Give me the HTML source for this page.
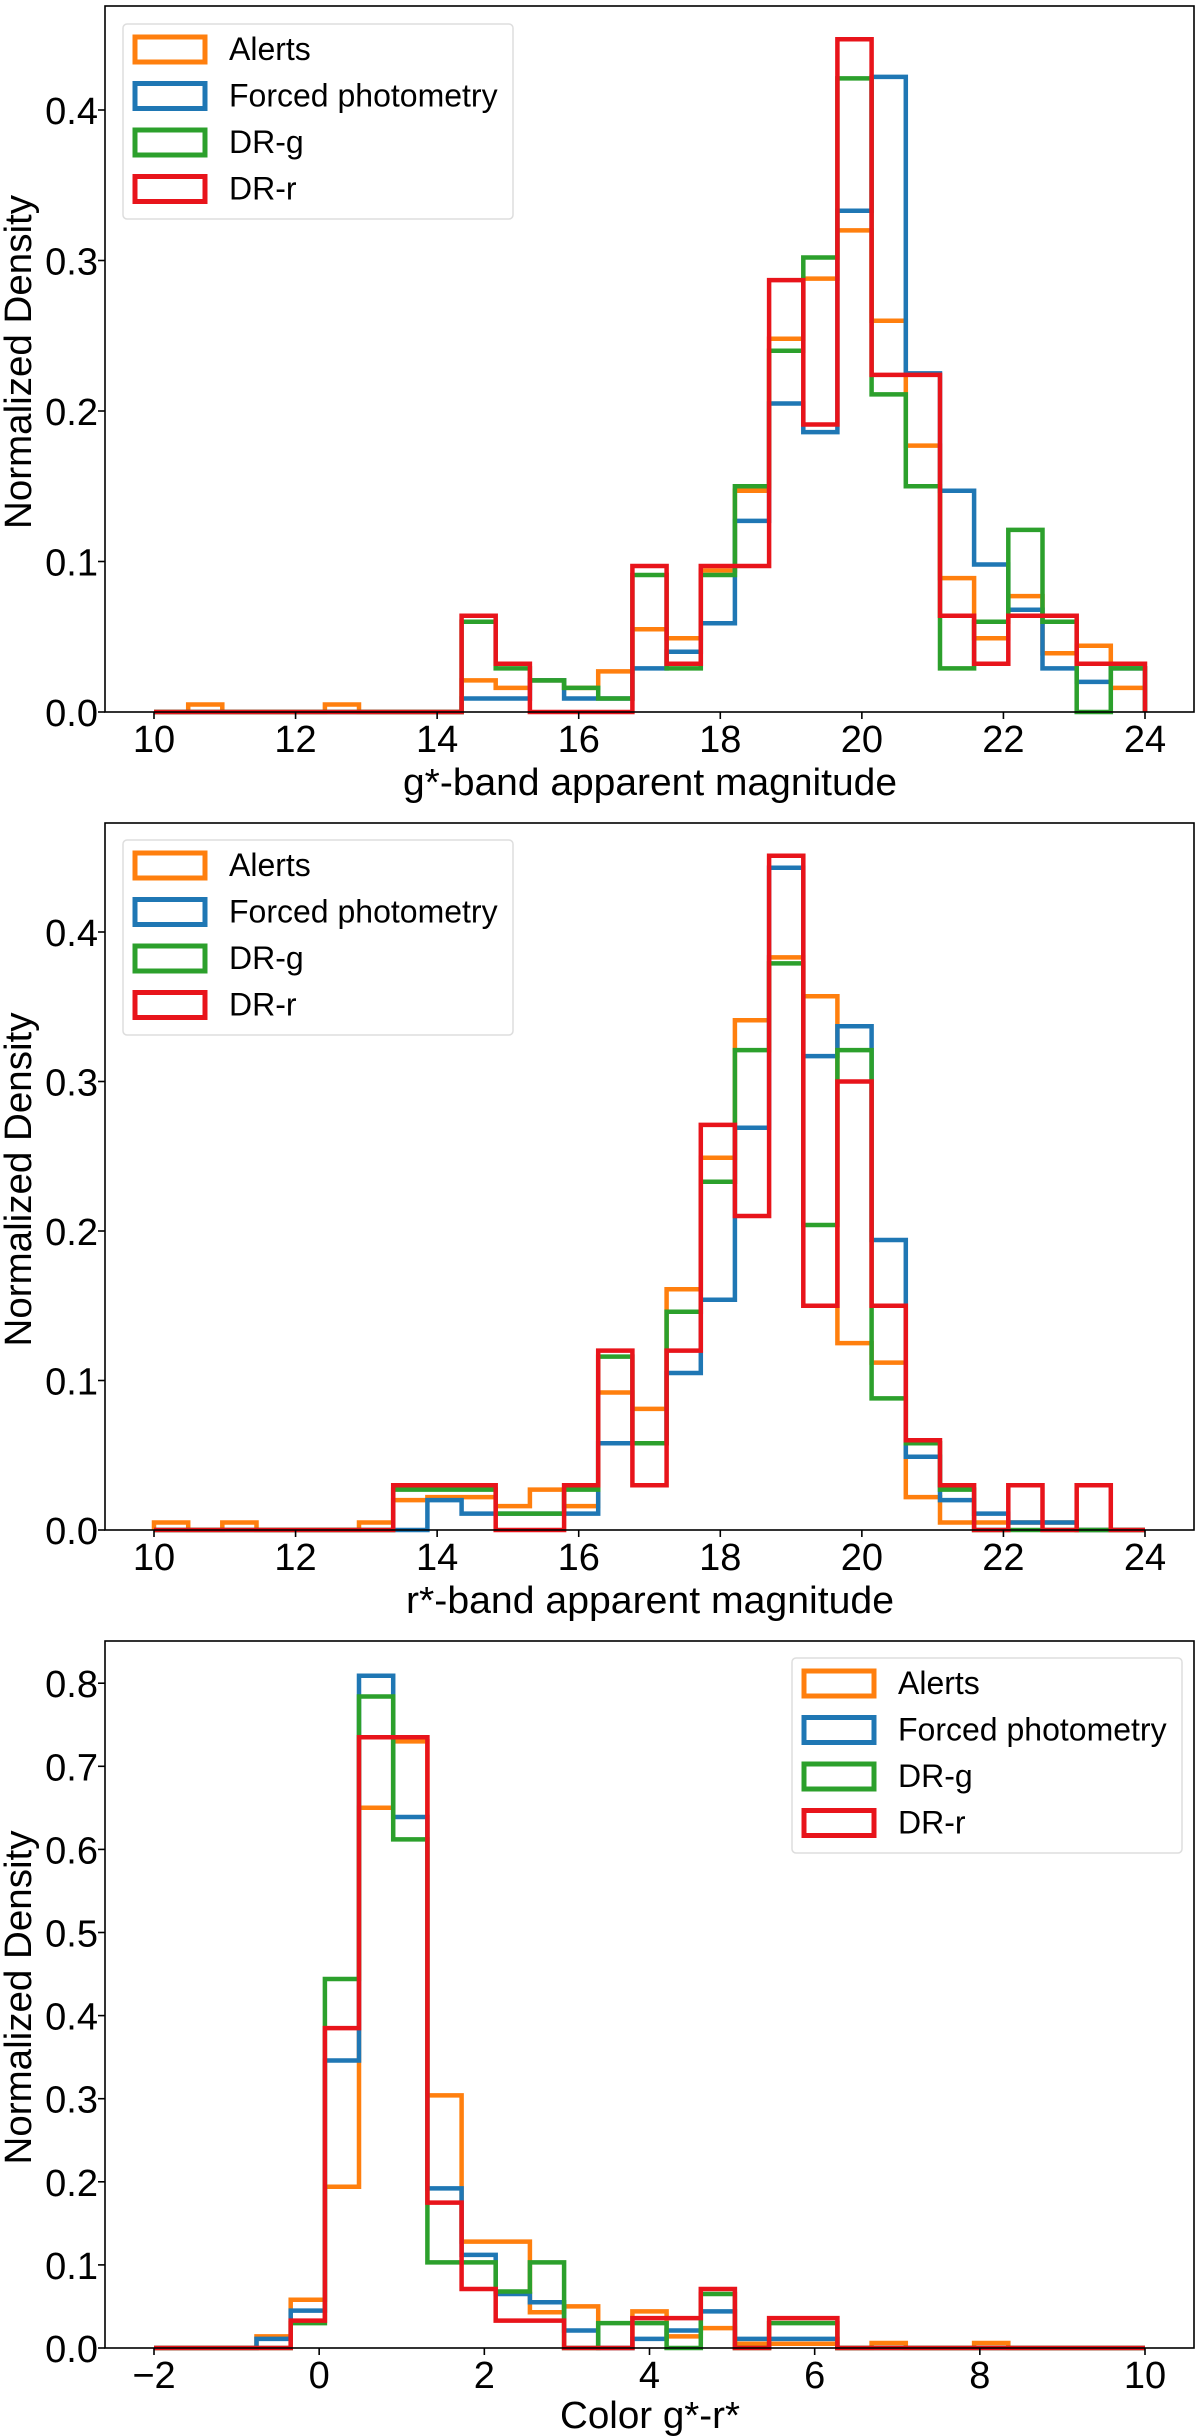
<!DOCTYPE html>
<html><head><meta charset="utf-8"><style>
html,body{margin:0;padding:0;background:#fff;}
svg{display:block;font-family:"Liberation Sans",Arial,sans-serif;}
</style></head><body>
<svg id="fig" width="1200" height="2436" viewBox="0 0 1200 2436" xmlns="http://www.w3.org/2000/svg"></svg>
<script>
const seriesNames = ["Alerts","Forced photometry","DR-g","DR-r"];
const seriesColors = ["#ff7f0e","#1f77b4","#2ca02c","#e8141b"];
// Panel 1: g*-band, range 10-24, 29 bins
const p1Range = [10, 24];
const p1Alerts = [0,0.005,0,0,0,0.005,0,0,0,0.021,0.016,0.021,0.016,0.027,0.055,0.049,0.094,0.147,0.248,0.288,0.32,0.26,0.177,0.089,0.049,0.077,0.039,0.044,0.016];
const p1Forced = [0,0,0,0,0,0,0,0,0,0.009,0.009,0.021,0.009,0.009,0.029,0.04,0.059,0.127,0.205,0.186,0.333,0.422,0.225,0.147,0.098,0.068,0.029,0.02,0.029];
const p1DRg = [0,0,0,0,0,0,0,0,0,0.06,0.029,0.021,0.016,0.009,0.091,0.029,0.091,0.15,0.24,0.302,0.421,0.211,0.15,0.029,0.06,0.121,0.06,0,0.029];
const p1DRr = [0,0,0,0,0,0,0,0,0,0.064,0.032,0,0,0,0.097,0.032,0.097,0.097,0.287,0.191,0.447,0.224,0.224,0.064,0.032,0.064,0.064,0.032,0.032];
const p1XTicks = [10,12,14,16,18,20,22,24];
const p1YTicks = [0,0.1,0.2,0.3,0.4];
// Panel 2: r*-band
const p2Range = [10, 24];
const p2Alerts = [0.005,0,0.005,0,0,0,0.005,0.02,0.022,0.022,0.016,0.027,0.016,0.092,0.081,0.161,0.249,0.341,0.383,0.357,0.125,0.112,0.022,0.005,0.005,0.005,0.005,0,0];
const p2Forced = [0,0,0,0,0,0,0,0,0.02,0.011,0.011,0.011,0.011,0.058,0.058,0.105,0.154,0.269,0.443,0.317,0.337,0.194,0.049,0.02,0.011,0.005,0.005,0,0];
const p2DRg = [0,0,0,0,0,0,0,0.027,0.027,0.027,0.011,0.011,0.027,0.116,0.058,0.146,0.233,0.321,0.379,0.204,0.321,0.088,0.058,0.027,0,0,0,0,0];
const p2DRr = [0,0,0,0,0,0,0,0.03,0.03,0.03,0,0,0.03,0.12,0.03,0.12,0.271,0.21,0.451,0.15,0.30,0.15,0.06,0.03,0,0.03,0,0.03,0];
const p2XTicks = [10,12,14,16,18,20,22,24];
const p2YTicks = [0,0.1,0.2,0.3,0.4];
// Panel 3: color g*-r*
const p3Range = [-2, 10];
const p3Alerts = [0,0,0,0.014,0.058,0.194,0.65,0.73,0.304,0.128,0.128,0.043,0.05,0,0.044,0.014,0.024,0.005,0.005,0.005,0,0.006,0,0,0.006,0,0,0,0];
const p3Forced = [0,0,0,0.011,0.045,0.346,0.809,0.639,0.192,0.112,0.065,0.055,0.021,0,0.011,0.021,0.044,0.011,0.011,0.011,0,0,0,0,0,0,0,0,0];
const p3DRg = [0,0,0,0,0.03,0.444,0.784,0.612,0.103,0.103,0.068,0.103,0,0.03,0.03,0,0.065,0,0.03,0.03,0,0,0,0,0,0,0,0,0];
const p3DRr = [0,0,0,0,0.033,0.385,0.735,0.735,0.175,0.071,0.033,0.033,0,0,0.036,0.036,0.071,0,0.036,0.036,0,0,0,0,0,0,0,0,0];
const p3XTicks = [-2,0,2,4,6,8,10];
const p3YTicks = [0,0.1,0.2,0.3,0.4,0.5,0.6,0.7,0.8];

const NS = "http://www.w3.org/2000/svg";
const svg = document.getElementById("fig");
function mk(tag, attrs, parent){
  const e = document.createElementNS(NS, tag);
  for (const k in attrs) e.setAttribute(k, attrs[k]);
  (parent||svg).appendChild(e);
  return e;
}
function fmtTick(v, dec){ return v < 0 ? "\u2212" + Math.abs(v).toFixed(dec) : v.toFixed(dec); }

function panel(cfg){
  const g = mk("g", {});
  
  
  const L=105, R=1194, T=cfg.top, B=cfg.zero;
  const xs = v => 154 + (v - cfg.range[0]) * (1145-154) / (cfg.range[1]-cfg.range[0]);
  const ys = v => B - v * cfg.per01 * 10;
  const nb = cfg.series[0].length;
  const w = (cfg.range[1]-cfg.range[0]) / nb;
  // histograms
  cfg.series.forEach((vals, si) => {
    let d = "M" + xs(cfg.range[0]) + " " + ys(0);
    for (let i=0;i<nb;i++){
      const x0 = xs(cfg.range[0]+i*w), x1 = xs(cfg.range[0]+(i+1)*w);
      d += " L" + x0.toFixed(1) + " " + ys(vals[i]).toFixed(1) + " L" + x1.toFixed(1) + " " + ys(vals[i]).toFixed(1);
    }
    d += " L" + xs(cfg.range[1]) + " " + ys(0);
    const p = mk("path", {d:d, fill:"none", stroke:seriesColors[si], "stroke-width":4.5, "stroke-linejoin":"miter"}, g);
    
    
  });
  // frame
  const fr = mk("rect", {x:L, y:T, width:R-L, height:B-T, fill:"none", stroke:"#000", "stroke-width":1.6}, g);
  
  
  // x ticks
  cfg.xticks.forEach(v => {
    mk("line", {x1:xs(v), x2:xs(v), y1:B, y2:B+7, stroke:"#000", "stroke-width":1.6}, g);
    const t = mk("text", {x:xs(v), y:B+40, "text-anchor":"middle", "font-size":38}, g);
    t.textContent = fmtTick(v, 0);
    
    
  });
  cfg.yticks.forEach(v => {
    mk("line", {x1:L-7, x2:L, y1:ys(v), y2:ys(v), stroke:"#000", "stroke-width":1.6}, g);
    const t = mk("text", {x:98, y:ys(v)+14, "text-anchor":"end", "font-size":38}, g);
    t.textContent = v.toFixed(1);
    
    
  });
  const xl = mk("text", {x:cfg.xlabelX, y:cfg.xlabelY, "text-anchor":"middle", "font-size":38, textLength:cfg.xlabelLen, lengthAdjust:"spacingAndGlyphs"}, g);
  xl.textContent = cfg.xlabel;
  
  
  const yc = (T+B)/2 + 3;
  const yl = mk("text", {x:0, y:0, transform:"translate(31 "+yc+") rotate(-90)", "text-anchor":"middle", "font-size":38, textLength:334, lengthAdjust:"spacingAndGlyphs"}, g);
  yl.textContent = "Normalized Density";
  
  
  // legend
  const lg = mk("g", {}, g);
  
  
  mk("rect", {x:cfg.legX, y:cfg.legY, width:390, height:195, rx:4, fill:"#fff", "fill-opacity":0.8, stroke:"#ddd", "stroke-width":1.5}, lg);
  seriesNames.forEach((n, si) => {
    const cy = cfg.legY + 25 + si*46.5;
    const r = mk("rect", {x:cfg.legX+12, y:cy-12, width:70, height:25, fill:"none", stroke:seriesColors[si], "stroke-width":5}, lg);
    
    
    const t = mk("text", {x:cfg.legX+106, y:cy+11, "font-size":32}, lg);
    t.textContent = n;
    
    
  });
}

panel({name:"g-band-panel", range:p1Range, series:[p1Alerts,p1Forced,p1DRg,p1DRr], xticks:p1XTicks, yticks:p1YTicks,
  top:6, zero:712, per01:150.5, xlabel:"g*-band apparent magnitude", xlabelX:650, xlabelY:795, xlabelLen:494, legX:123, legY:24});
panel({name:"r-band-panel", range:p2Range, series:[p2Alerts,p2Forced,p2DRg,p2DRr], xticks:p2XTicks, yticks:p2YTicks,
  top:823, zero:1530, per01:149.5, xlabel:"r*-band apparent magnitude", xlabelX:650, xlabelY:1613, xlabelLen:488, legX:123, legY:840});
panel({name:"color-panel", range:p3Range, series:[p3Alerts,p3Forced,p3DRg,p3DRr], xticks:p3XTicks, yticks:p3YTicks,
  top:1641, zero:2348, per01:83.1, xlabel:"Color g*-r*", xlabelX:650, xlabelY:2428, xlabelLen:180, legX:792, legY:1658});
</script>
</body></html>
